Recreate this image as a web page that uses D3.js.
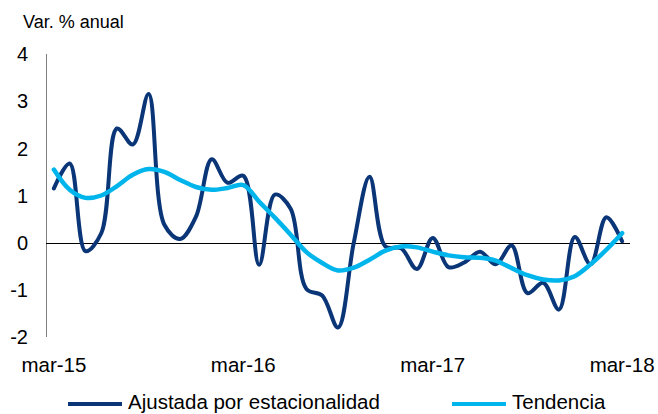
<!DOCTYPE html>
<html>
<head>
<meta charset="utf-8">
<script src="https://cdn.jsdelivr.net/npm/d3@7"></script>
<style>
  body { margin: 0; background: #fff; }
  svg text { font-family: "Liberation Sans", Arial, sans-serif; fill: #000; }
</style>
</head>
<body>
<svg id="chart" width="658" height="414"></svg>
<script>
// Monthly categories, mar-15 .. mar-18
const months = [
  "mar-15", "abr-15", "may-15", "jun-15", "jul-15", "ago-15", "sep-15", "oct-15", "nov-15", "dic-15",
  "ene-16", "feb-16", "mar-16", "abr-16", "may-16", "jun-16", "jul-16", "ago-16", "sep-16", "oct-16",
  "nov-16", "dic-16", "ene-17", "feb-17", "mar-17", "abr-17", "may-17", "jun-17", "jul-17", "ago-17",
  "sep-17", "oct-17", "nov-17", "dic-17", "ene-18", "feb-18", "mar-18"
];

// Var. % anual, seasonally adjusted
const ajustada = [
  1.15, 1.68, -0.18, 0.2, 2.42, 2.08, 3.15, 0.38, 0.08, 0.55,
  1.77, 1.27, 1.42, -0.47, 1.02, 0.72, -0.98, -1.12, -1.8, 0.0,
  1.4, -0.08, -0.12, -0.56, 0.1, -0.52, -0.42, -0.19, -0.46, -0.06,
  -1.07, -0.85, -1.42, 0.12, -0.46, 0.54, 0.03
];

// Trend
const tendencia = [
  1.55, 1.12, 0.95, 1.0, 1.2, 1.44, 1.56, 1.5, 1.33, 1.18,
  1.12, 1.16, 1.22, 0.87, 0.53, 0.17, -0.2, -0.43, -0.59, -0.53,
  -0.36, -0.17, -0.08, -0.1, -0.19, -0.27, -0.31, -0.32, -0.38, -0.54,
  -0.69, -0.78, -0.8, -0.71, -0.46, -0.15, 0.2
];

const yTicks = [-2, -1, 0, 1, 2, 3, 4];
const xTickLabels = ["mar-15", "mar-16", "mar-17", "mar-18"];

const series = [
  { name: "Ajustada por estacionalidad", values: ajustada, color: "#0A3577", width: 4 },
  { name: "Tendencia", values: tendencia, color: "#00B4EC", width: 4.5 }
];

const svg = d3.select("#chart");

const x = d3.scaleBand().domain(months).range([46, 630]);
const y = d3.scaleLinear().domain([-2, 4]).range([337, 54]);
const xc = d => x(d) + x.bandwidth() / 2;

// Title
svg.append("text")
  .attr("x", 23)
  .attr("y", 28)
  .style("font-size", "18px")
  .text("Var. % anual");

// Y axis line and labels
svg.append("line")
  .attr("x1", 46.5).attr("x2", 46.5)
  .attr("y1", y(4)).attr("y2", y(-2))
  .attr("stroke", "#7f7f7f")
  .attr("stroke-width", 1);

svg.append("g")
  .selectAll("text")
  .data(yTicks)
  .join("text")
  .attr("x", 28)
  .attr("y", d => y(d))
  .attr("dy", "0.36em")
  .attr("text-anchor", "end")
  .style("font-size", "20px")
  .text(d => d);

// Zero line
svg.append("line")
  .attr("x1", 46).attr("x2", 630)
  .attr("y1", Math.round(y(0)) + 0.5).attr("y2", Math.round(y(0)) + 0.5)
  .attr("stroke", "#000")
  .attr("stroke-width", 1);

// X labels
svg.append("g")
  .selectAll("text")
  .data(xTickLabels)
  .join("text")
  .attr("x", d => xc(d))
  .attr("y", 372)
  .attr("text-anchor", "middle")
  .style("font-size", "20.5px")
  .text(d => d);

// Lines
const line = d3.line()
  .x((d, i) => xc(months[i]))
  .y(d => y(d))
  .curve(d3.curveCatmullRom.alpha(0.5));

svg.append("g")
  .selectAll("path")
  .data(series)
  .join("path")
  .attr("d", d => line(d.values))
  .attr("fill", "none")
  .attr("stroke", d => d.color)
  .attr("stroke-width", d => d.width)
  .attr("stroke-linejoin", "round")
  .attr("stroke-linecap", "round");

// Legend
const legendX = [68, 452];
const legend = svg.append("g")
  .selectAll("g")
  .data(series)
  .join("g")
  .attr("transform", (d, i) => `translate(${legendX[i]},404)`);

legend.append("line")
  .attr("x1", 0).attr("x2", 54)
  .attr("y1", 0).attr("y2", 0)
  .attr("stroke", d => d.color)
  .attr("stroke-width", 4);

legend.append("text")
  .attr("x", 60)
  .attr("y", 4.5)
  .style("font-size", "20.5px")
  .text(d => d.name);
</script>
</body>
</html>
